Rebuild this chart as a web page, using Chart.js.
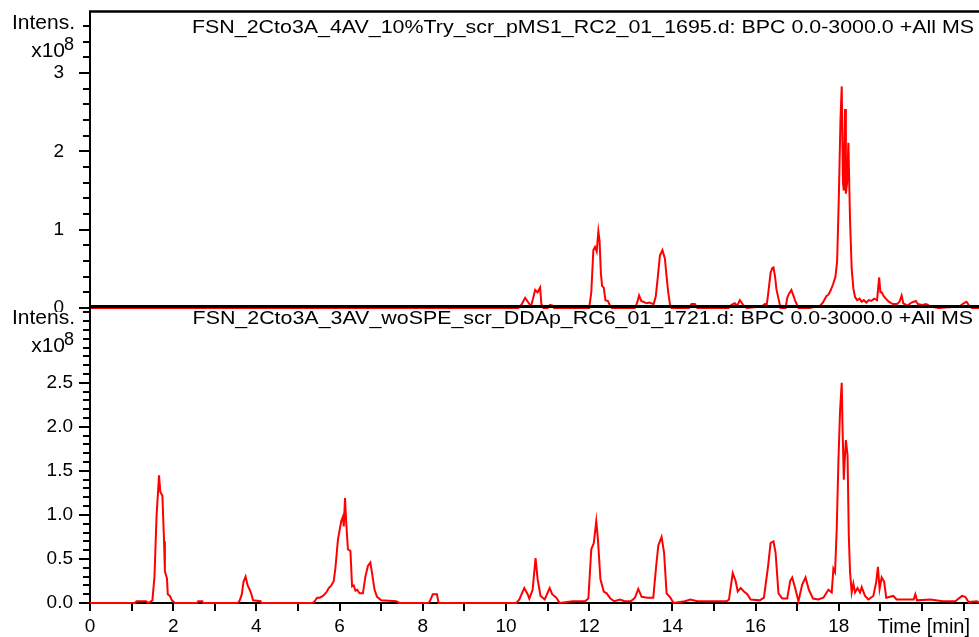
<!DOCTYPE html>
<html><head><meta charset="utf-8">
<script src="https://cdn.jsdelivr.net/npm/chart.js@4.4.1/dist/chart.umd.min.js"></script>
<style>
html,body{margin:0;padding:0;background:#fff;}
#wrap{position:relative;width:979px;height:637px;overflow:hidden;background:#fff;}
#c1{position:absolute;left:0;top:0;}
#c2{position:absolute;left:0;top:300px;}
</style></head><body>
<div id="wrap">
<canvas id="c1" width="979" height="312"></canvas>
<canvas id="c2" width="979" height="337"></canvas>
</div>
<script>
// ---- data (intensity in units of 1e8, time in minutes) ----
const topTitle = "FSN_2Cto3A_4AV_10%Try_scr_pMS1_RC2_01_1695.d: BPC 0.0-3000.0 +All MS";
const bottomTitle = "FSN_2Cto3A_3AV_woSPE_scr_DDAp_RC6_01_1721.d: BPC 0.0-3000.0 +All MS";
const yAxisLabel = "Intens.";
const yAxisExponent = "8";
const xAxisLabel = "Time [min]";

const topTimes = [0,10.3,10.38,10.46,10.55,10.6,10.65,10.7,10.76,10.82,10.85,10.9,11.0,11.06,11.12,11.15,
 12.0,12.05,12.1,12.14,12.18,12.22,12.25,12.28,12.31,12.35,12.39,12.45,12.5,12.55,
 13.1,13.16,13.2,13.25,13.3,13.38,13.45,13.55,13.6,13.65,13.7,13.76,13.82,13.86,13.9,13.94,13.98,
 14.4,14.46,14.54,14.6,15.35,15.42,15.5,15.56,15.62,15.7,15.78,16.15,16.22,16.27,16.3,16.36,16.4,16.43,16.47,16.5,16.55,16.6,
 16.72,16.76,16.8,16.86,16.9,16.96,17.03,17.3,17.45,17.55,17.62,17.7,17.75,17.8,17.86,17.92,17.96,
 18.0,18.04,18.07,18.1,18.12,18.15,18.17,18.2,18.23,18.27,18.31,18.35,18.39,18.44,18.5,18.55,18.6,18.66,18.72,18.78,18.85,18.92,
 18.97,19.0,19.03,19.08,19.13,19.2,19.3,19.4,19.46,19.51,19.55,19.65,19.75,19.85,19.9,20.0,20.1,20.2,20.4,20.9,21.0,21.07,21.12,21.2,21.4];
const topIntensities = [0,0,0.05,0.13,0.06,0.02,0.12,0.23,0.2,0.26,0.05,0,0,0.04,0.03,0,
 0,0.2,0.74,0.78,0.72,0.98,0.85,0.45,0.28,0.26,0.1,0.09,0.03,0,
 0,0.08,0.16,0.09,0.08,0.06,0.07,0.05,0.15,0.4,0.67,0.74,0.63,0.4,0.2,0.05,0,
 0,0.05,0.05,0,0,0.04,0.06,0.03,0.1,0.04,0,0.02,0.05,0.05,0.17,0.45,0.51,0.52,0.39,0.24,0.12,0,
 0,0.13,0.18,0.23,0.17,0.08,0,0,0.02,0.03,0.07,0.15,0.17,0.22,0.3,0.4,0.6,
 1.4,2.4,2.83,1.6,1.5,2.54,1.46,1.6,2.11,1.12,0.5,0.25,0.14,0.1,0.12,0.08,0.1,0.07,0.1,0.09,0.12,0.1,
 0.39,0.2,0.2,0.15,0.12,0.08,0.05,0.05,0.08,0.16,0.06,0.03,0.07,0.09,0.05,0.04,0.05,0.02,0,0.02,0.06,0.08,0.04,0,0];

const bottomTimes = [0,1.08,1.12,1.35,1.4,1.5,1.55,1.6,1.64,1.66,1.69,1.74,1.78,1.8,1.85,1.87,1.92,1.97,2.04,
 2.58,2.6,2.7,2.72,3.55,3.6,3.65,3.69,3.74,3.79,3.84,3.88,3.92,4.1,4.12,
 5.35,5.4,5.46,5.52,5.6,5.68,5.74,5.8,5.86,5.9,5.96,6.04,6.08,6.1,6.13,6.16,6.2,6.26,6.3,6.34,6.38,6.42,6.48,6.56,
 6.62,6.68,6.74,6.78,6.84,6.9,7.0,7.36,7.44,8.14,8.18,8.24,8.34,8.38,
 10.25,10.32,10.44,10.52,10.56,10.64,10.71,10.76,10.83,10.93,11.05,11.11,11.21,11.29,11.6,11.9,11.98,
 12.05,12.11,12.17,12.21,12.27,12.35,12.42,12.51,12.6,12.74,12.85,13.0,13.1,13.18,13.26,13.4,13.54,
 13.61,13.66,13.74,13.8,13.86,13.95,14.03,14.3,14.43,14.6,15.3,15.36,15.45,15.52,15.57,15.64,15.72,15.8,15.88,
 16.1,16.2,16.3,16.36,16.43,16.48,16.55,16.64,16.76,16.83,16.88,16.95,17.03,17.12,17.2,17.28,17.38,17.5,17.63,
 17.75,17.83,17.87,17.91,17.95,17.99,18.03,18.07,18.09,18.12,18.14,18.17,18.21,18.24,18.27,18.31,18.35,18.39,
 18.45,18.51,18.55,18.63,18.71,18.83,18.9,18.94,18.98,19.03,19.09,19.14,19.31,19.39,19.63,19.8,19.84,19.88,
 20.2,20.5,20.8,20.96,21.04,21.12,21.32,21.4];
const bottomIntensities = [0,0,0.02,0.02,0,0.03,0.3,0.99,1.3,1.45,1.26,1.22,0.7,0.36,0.28,0.1,0.08,0.03,0,
 0,0.02,0.02,0,0,0.03,0.1,0.24,0.3,0.2,0.15,0.1,0.03,0.02,0,
 0,0.02,0.06,0.06,0.08,0.12,0.17,0.2,0.25,0.4,0.72,0.93,0.98,0.87,1.19,0.91,0.61,0.59,0.19,0.2,0.14,0.15,0.11,0.11,
 0.3,0.42,0.46,0.34,0.15,0.07,0.03,0.02,0,0,0.03,0.1,0.1,0,
 0,0.04,0.17,0.1,0.05,0.15,0.51,0.27,0.08,0.04,0.17,0.1,0.06,0,0.02,0.02,0.05,
 0.61,0.68,0.93,0.72,0.27,0.13,0.11,0.05,0.02,0.04,0.02,0.02,0.06,0.16,0.07,0.06,0.06,
 0.42,0.65,0.75,0.57,0.11,0.06,0,0.02,0.04,0.02,0.02,0.04,0.34,0.25,0.13,0.17,0.13,0.1,0.04,
 0.03,0.06,0.42,0.68,0.7,0.57,0.11,0.05,0.05,0.25,0.29,0.17,0.02,0.21,0.29,0.15,0.05,0.04,0.06,
 0.15,0.12,0.39,0.35,0.84,1.6,2.18,2.5,1.99,1.4,1.6,1.85,1.68,0.77,0.35,0.12,0.22,0.12,
 0.17,0.12,0.18,0.08,0.04,0.08,0.24,0.41,0.16,0.29,0.24,0.06,0.08,0.04,0.04,0.04,0.1,0.03,
 0.04,0.02,0.02,0.08,0.07,0.01,0.02,0];

const topYTicks = [0, 1, 2, 3];
const bottomYTicks = [0.0, 0.5, 1.0, 1.5, 2.0, 2.5];
const xLabelTicks = [0, 2, 4, 6, 8, 10, 12, 14, 16, 18];

// ---- rendering ----
const FONT = "'Liberation Sans', Arial, sans-serif";
const X_MAX = 21.37;
let titleScale = null;

function toPoints(ts, ys) { return ts.map((t, i) => ({ x: t, y: ys[i] })); }

function drawYTicks(chart, minorStep, majorTicks) {
  const ctx = chart.ctx, s = chart.scales.y, x0 = chart.chartArea.left;
  ctx.save();
  ctx.strokeStyle = '#000'; ctx.lineWidth = 2;
  const n = Math.floor(s.max / minorStep + 1e-6);
  for (let i = 0; i <= n; i++) {
    const v = i * minorStep;
    const major = majorTicks.some(m => Math.abs(m - v) < 1e-6);
    const y = Math.round(s.getPixelForValue(v)) + 0.0;
    ctx.beginPath();
    ctx.moveTo(x0 - (major ? 11 : 7), y);
    ctx.lineTo(x0, y);
    ctx.stroke();
  }
  ctx.restore();
}

function drawTitle(ctx, text, rightX, baseline) {
  ctx.save();
  ctx.font = "19px " + FONT;
  ctx.fillStyle = '#000';
  if (titleScale === null) {
    titleScale = 782 / ctx.measureText(topTitle).width;
  }
  const w = ctx.measureText(text).width * titleScale;
  ctx.translate(rightX - w, baseline);
  ctx.scale(titleScale, 1);
  ctx.textAlign = 'left';
  ctx.textBaseline = 'alphabetic';
  ctx.fillText(text, 0, 0);
  ctx.restore();
}

function drawIntens(ctx, top) {
  ctx.save();
  ctx.fillStyle = '#000';
  ctx.textBaseline = 'alphabetic';
  ctx.font = "21px " + FONT;
  ctx.textAlign = 'right';
  ctx.fillText(yAxisLabel, 75, top + 16);
  ctx.fillText("x10", 65, top + 44);
  ctx.font = "18px " + FONT;
  ctx.textAlign = 'left';
  ctx.fillText(yAxisExponent, 64, top + 37);
  ctx.restore();
}

const topPlugin = {
  id: 'topDeco',
  afterDraw(chart) {
    const ctx = chart.ctx, a = chart.chartArea;
    drawYTicks(chart, 0.2, topYTicks);
    ctx.save();
    ctx.strokeStyle = '#000';
    ctx.lineWidth = 2.5;
    ctx.beginPath(); ctx.moveTo(a.left - 1, a.top - 0.5); ctx.lineTo(chart.width, a.top - 0.5); ctx.stroke();
    ctx.lineWidth = 3;
    ctx.beginPath(); ctx.moveTo(a.left - 1, a.bottom - 1.5); ctx.lineTo(chart.width, a.bottom - 1.5); ctx.stroke();
    ctx.restore();
    drawIntens(ctx, 13);
    drawTitle(ctx, topTitle, 974, 33);
  }
};

const bottomPlugin = {
  id: 'bottomDeco',
  afterDraw(chart) {
    const ctx = chart.ctx;
    drawYTicks(chart, 0.1, bottomYTicks);
    drawIntens(ctx, 8);
    drawTitle(ctx, bottomTitle, 973, 24);
    ctx.save();
    ctx.fillStyle = '#000';
    ctx.font = "20px " + FONT;
    ctx.textAlign = 'right';
    ctx.textBaseline = 'alphabetic';
    ctx.fillText(xAxisLabel, 970, 333);
    ctx.restore();
  }
};

function makeChart(id, times, values, opts) {
  return new Chart(document.getElementById(id), {
    type: 'line',
    data: { datasets: [{ data: toPoints(times, values), borderColor: '#ff0000', borderWidth: 2,
      pointRadius: 0, tension: 0, fill: false, clip: 3 }] },
    options: {
      responsive: false, animation: false, devicePixelRatio: 1,
      layout: { padding: opts.padding },
      plugins: { legend: { display: false }, tooltip: { enabled: false } },
      scales: {
        x: opts.x,
        y: {
          type: 'linear', min: 0, max: opts.yMax,
          grid: { display: false },
          border: { display: true, color: '#000', width: 2 },
          afterBuildTicks: s => { s.ticks = opts.yTicks.map(v => ({ value: v })); },
          ticks: { color: '#000', font: { family: FONT, size: 19 }, padding: opts.yPad,
            autoSkip: false, callback: v => v.toFixed(opts.dec) },
          afterFit: s => { s.width = 90; s.paddingTop = 0; s.paddingBottom = 0; }
        }
      }
    },
    plugins: [opts.plugin]
  });
}

makeChart('c1', topTimes, topIntensities, {
  padding: { top: 12, bottom: 4, left: 0, right: 0 },
  yMax: 3.78, yTicks: topYTicks, yPad: 18, dec: 0, plugin: topPlugin,
  x: { type: 'linear', min: 0, max: X_MAX, display: false }
});

makeChart('c2', bottomTimes, bottomIntensities, {
  padding: { top: 7, bottom: 0, left: 0, right: 0 },
  yMax: 3.36, yTicks: bottomYTicks, yPad: 9, dec: 1, plugin: bottomPlugin,
  x: {
    type: 'linear', min: 0, max: X_MAX,
    grid: { display: true, drawOnChartArea: false, drawTicks: true, tickLength: 8, color: '#000', lineWidth: 2 },
    border: { display: true, color: '#000', width: 2 },
    afterBuildTicks: s => { const t = []; for (let i = 0; i <= Math.floor(X_MAX); i++) t.push({ value: i }); s.ticks = t; },
    ticks: { color: '#000', font: { family: FONT, size: 19 }, padding: 4, autoSkip: false, maxRotation: 0,
      callback: v => xLabelTicks.includes(v) ? String(v) : '' },
    afterFit: s => { s.height = 34; s.paddingLeft = 0; s.paddingRight = 0; }
  }
});
</script>
</body></html>
